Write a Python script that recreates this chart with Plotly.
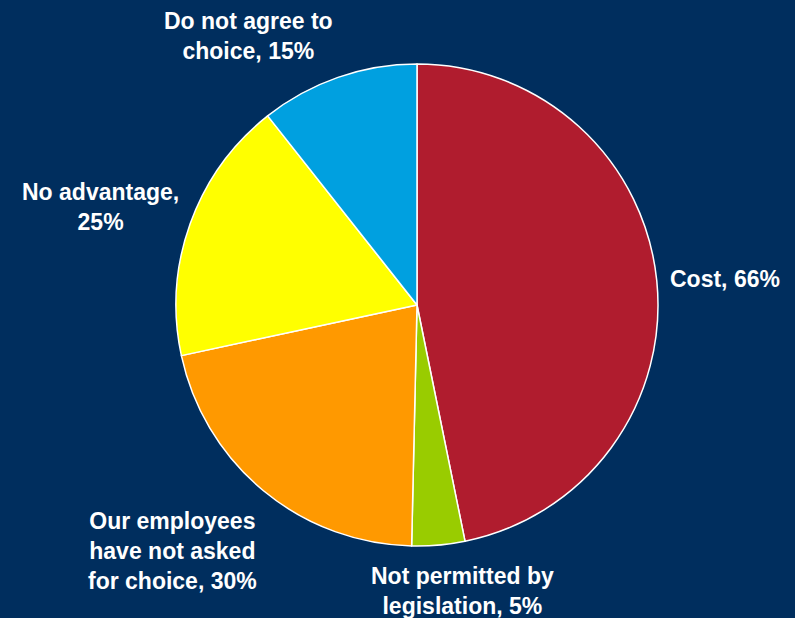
import plotly.graph_objects as go

# Reasons for not offering choice (multiple responses allowed)
categories = [
    "Cost",
    "Not permitted by legislation",
    "Our employees have not asked for choice",
    "No advantage",
    "Do not agree to choice",
]
values = [66, 5, 30, 25, 15]
label_lines = [
    ["Cost, {v}%"],
    ["Not permitted by", "legislation, {v}%"],
    ["Our employees", "have not asked", "for choice, {v}%"],
    ["No advantage,", "{v}%"],
    ["Do not agree to", "choice, {v}%"],
]
colors = ["#B01C2E", "#99CC00", "#FF9900", "#FFFF00", "#00A0E0"]

W, H = 795, 618
BG = "#002E5E"

# label anchor points (pixel centre of each text block)
label_pos = [(725, 279), (462, 591), (172, 551), (100, 207), (248, 36)]

fig = go.Figure(
    go.Pie(
        labels=categories,
        values=values,
        sort=False,
        direction="clockwise",
        rotation=0,
        marker=dict(colors=colors, line=dict(color="white", width=1.5)),
        textinfo="none",
        hoverinfo="label+value",
        showlegend=False,
        domain=dict(
            x=[(417 - 241) / W, (417 + 241) / W],
            y=[(313 - 241) / H, (313 + 241) / H],
        ),
    )
)

for lines, v, (px, py) in zip(label_lines, values, label_pos):
    text = "<br>".join(l.format(v=v) for l in lines)
    fig.add_annotation(
        x=px / W,
        y=1 - py / H,
        xref="paper",
        yref="paper",
        text=text,
        showarrow=False,
        xanchor="center",
        yanchor="middle",
        align="center",
        font=dict(family="Liberation Sans, Arial, sans-serif", size=23, color="white", weight="bold"),
    )

fig.update_layout(
    width=W,
    height=H,
    margin=dict(l=0, r=0, t=0, b=0),
    paper_bgcolor=BG,
    plot_bgcolor=BG,
)

fig.write_html("out.html")
